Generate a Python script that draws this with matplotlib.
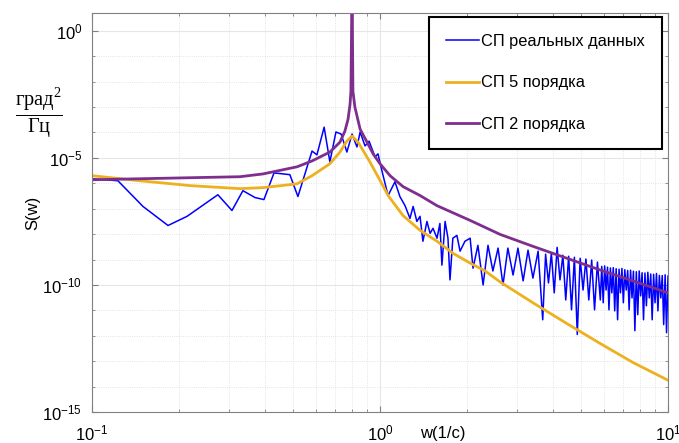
import numpy as np
import matplotlib.pyplot as plt
from matplotlib.ticker import FixedLocator, LogLocator, NullFormatter

plt.rcParams['font.family'] = ['Liberation Sans', 'DejaVu Sans']
plt.rcParams['mathtext.fontset'] = 'custom'
plt.rcParams['mathtext.rm'] = 'Liberation Serif'

########### Data (log10 values) ###########

# real data spectrum
lg_w_real = [-1.000, -0.910, -0.823, -0.736, -0.670, -0.563, -0.514, -0.476, -0.434, -0.403,
             -0.368, -0.313, -0.285, -0.236, -0.219, -0.194, -0.174, -0.153, -0.135, -0.115,
             -0.097, -0.080, -0.069, -0.052, -0.038, -0.017, -0.007, 0.010, 0.028, 0.052,
             0.069, 0.087, 0.104, 0.115, 0.128, 0.139, 0.149, 0.163, 0.174, 0.184,
             0.198, 0.208, 0.215, 0.226, 0.236, 0.243, 0.253, 0.267, 0.278, 0.295,
             0.313, 0.323, 0.340, 0.358, 0.375, 0.392, 0.410, 0.427, 0.444, 0.462,
             0.479, 0.497, 0.514, 0.531, 0.549,
             0.565, 0.575, 0.585, 0.595, 0.605, 0.615, 0.625, 0.635, 0.645, 0.655,
             0.665, 0.675, 0.685, 0.695, 0.705, 0.715, 0.725, 0.735, 0.745, 0.755,
             0.765, 0.770, 0.775, 0.780, 0.785, 0.790, 0.795, 0.800,
             0.805, 0.810, 0.815, 0.820, 0.825, 0.830, 0.835, 0.840,
             0.845, 0.850, 0.855, 0.860, 0.865, 0.870, 0.875, 0.880,
             0.885, 0.890, 0.895, 0.900, 0.905, 0.910, 0.915, 0.920,
             0.925, 0.930, 0.935, 0.940, 0.945, 0.950, 0.955, 0.960,
             0.965, 0.970, 0.975, 0.980, 0.985, 0.990, 0.995, 1.000]
lg_S_real = [-5.82, -5.90, -6.91, -7.66, -7.30, -6.45, -7.07, -6.29, -6.56, -6.64,
             -5.59, -5.66, -6.52, -4.73, -4.88, -3.79, -5.16, -3.98, -4.06, -4.77,
             -4.06, -4.57, -3.98, -4.53, -4.34, -4.96, -4.84, -5.66, -6.48, -5.94,
             -6.52, -6.88, -7.38, -6.91, -7.50, -7.30, -8.28, -7.50, -7.97, -7.77,
             -8.16, -7.58, -9.22, -7.50, -8.16, -9.80, -8.16, -8.05, -8.67, -8.28,
             -8.16, -9.34, -8.44, -10.00, -8.44, -9.45, -8.55, -10.00, -8.55, -9.61,
             -8.55, -9.84, -8.63, -9.73, -8.67,
             -11.37, -8.79, -9.92, -8.75, -10.31, -8.52, -9.80, -8.83, -10.59, -8.87,
             -10.98, -8.91, -11.95, -8.95, -10.20, -8.98, -10.59, -9.02, -10.98, -9.10,
             -10.59, -9.27, -10.70, -9.25, -10.20, -9.30, -10.98, -9.33,
             -10.31, -9.32, -11.02, -9.36, -11.37, -9.38, -10.31, -9.35,
             -10.70, -9.40, -10.20, -9.43, -10.98, -9.42, -10.51, -9.46,
             -11.80, -9.48, -11.17, -9.45, -10.43, -9.52, -11.37, -9.53,
             -10.82, -9.50, -10.51, -9.57, -11.37, -9.58, -10.70, -9.55,
             -11.02, -9.62, -10.51, -9.63, -11.56, -9.60, -11.88, -9.65]

# 5th order spectrum
lg_w_5 = [-1.000, -0.833, -0.660, -0.486, -0.406, -0.288, -0.236, -0.174, -0.139, -0.115,
          -0.097, -0.076, -0.035, 0.010, 0.028, 0.080, 0.139, 0.198, 0.253, 0.313,
          0.365, 0.417, 0.531, 0.649, 0.764, 0.878, 1.000]
lg_S_5 = [-5.70, -5.90, -6.09, -6.21, -6.17, -6.02, -5.70, -5.23, -4.77, -4.34,
          -4.14, -4.38, -5.16, -6.09, -6.48, -7.27, -7.85, -8.28, -8.75, -9.14,
          -9.45, -9.88, -10.70, -11.52, -12.30, -13.05, -13.75]

# 2nd order spectrum
lg_w_2 = [-1.000, -0.833, -0.660, -0.486, -0.406, -0.288, -0.236, -0.174, -0.139, -0.122,
          -0.111, -0.104, -0.101, -0.097, -0.094, -0.087, -0.069, -0.045, -0.024, 0.000,
          0.035, 0.080, 0.139, 0.198, 0.313, 0.417, 0.531, 0.649, 0.764, 0.878, 1.000]
lg_S_2 = [-5.86, -5.82, -5.78, -5.74, -5.63, -5.35, -5.12, -4.77, -4.38, -3.95,
          -3.48, -2.89, -2.38, 2.00, -2.38, -3.01, -3.87, -4.38, -4.84, -5.23,
          -5.70, -6.13, -6.48, -6.88, -7.46, -8.01, -8.48, -8.95, -9.41, -9.84, -10.31]

labels = ['СП реальных данных', 'СП 5 порядка', 'СП 2 порядка']

################# Plot #################

fig = plt.figure(figsize=(6.79, 4.43), dpi=100)
ax = fig.add_axes([92/679, 1-412/443, 576/679, 399/443])

ax.loglog(10**np.array(lg_w_real), 10**np.array(lg_S_real), color='#0000FF', lw=1.1, label=labels[0])
ax.loglog(10**np.array(lg_w_5), 10**np.array(lg_S_5), color='#EDB120', lw=2.0, label=labels[1])
ax.loglog(10**np.array(lg_w_2), 10**np.array(lg_S_2), color='#7E2F8E', lw=2.0, label=labels[2])

ax.set_xlim(0.1, 10)
ax.set_ylim(1e-15, 10**0.703)

ax.yaxis.set_major_locator(FixedLocator([1e-15, 1e-10, 1e-5, 1e0]))
ax.yaxis.set_minor_locator(FixedLocator([10.0**k for k in range(-14, 1) if k % 5 != 0]))
ax.yaxis.set_minor_formatter(NullFormatter())
ax.xaxis.set_major_locator(LogLocator(base=10))
ax.xaxis.set_minor_locator(LogLocator(base=10, subs=np.arange(2, 10)))
ax.xaxis.set_minor_formatter(NullFormatter())

ax.grid(which='major', color='#e6e6e6', lw=0.8)
ax.grid(which='minor', color='#dcdcdc', lw=0.6, ls=':')
ax.set_axisbelow(True)
ax.tick_params(which='both', direction='in', top=True, right=True, color='#808080', labelsize=12)
ax.tick_params(which='major', length=4)
ax.tick_params(which='minor', length=2)
ax.tick_params(axis='x', pad=8)
ax.tick_params(axis='y', pad=7)
for s in ax.spines.values():
    s.set_color('#808080')

ax.text(0.609, -0.053, 'w(1/c)', transform=ax.transAxes, ha='center', va='center', fontsize=12)
fig.text(33/679, 1-213/443, 'S(w)', rotation=90, ha='center', va='center', fontsize=12)
fig.text(39/679, 1-114/443, r'$\frac{\mathrm{град}^2}{\mathrm{Гц}}$', ha='center', va='center', fontsize=21)

leg = ax.legend(loc='upper right', bbox_to_anchor=((662-92)/576, (412-17)/399), borderaxespad=0,
                fontsize=11.8, fancybox=False, framealpha=1, edgecolor='black',
                handlelength=2.0, handletextpad=0.15, labelspacing=1.6, borderpad=1.05)
leg.get_frame().set_linewidth(1.5)

plt.savefig('out.png')
